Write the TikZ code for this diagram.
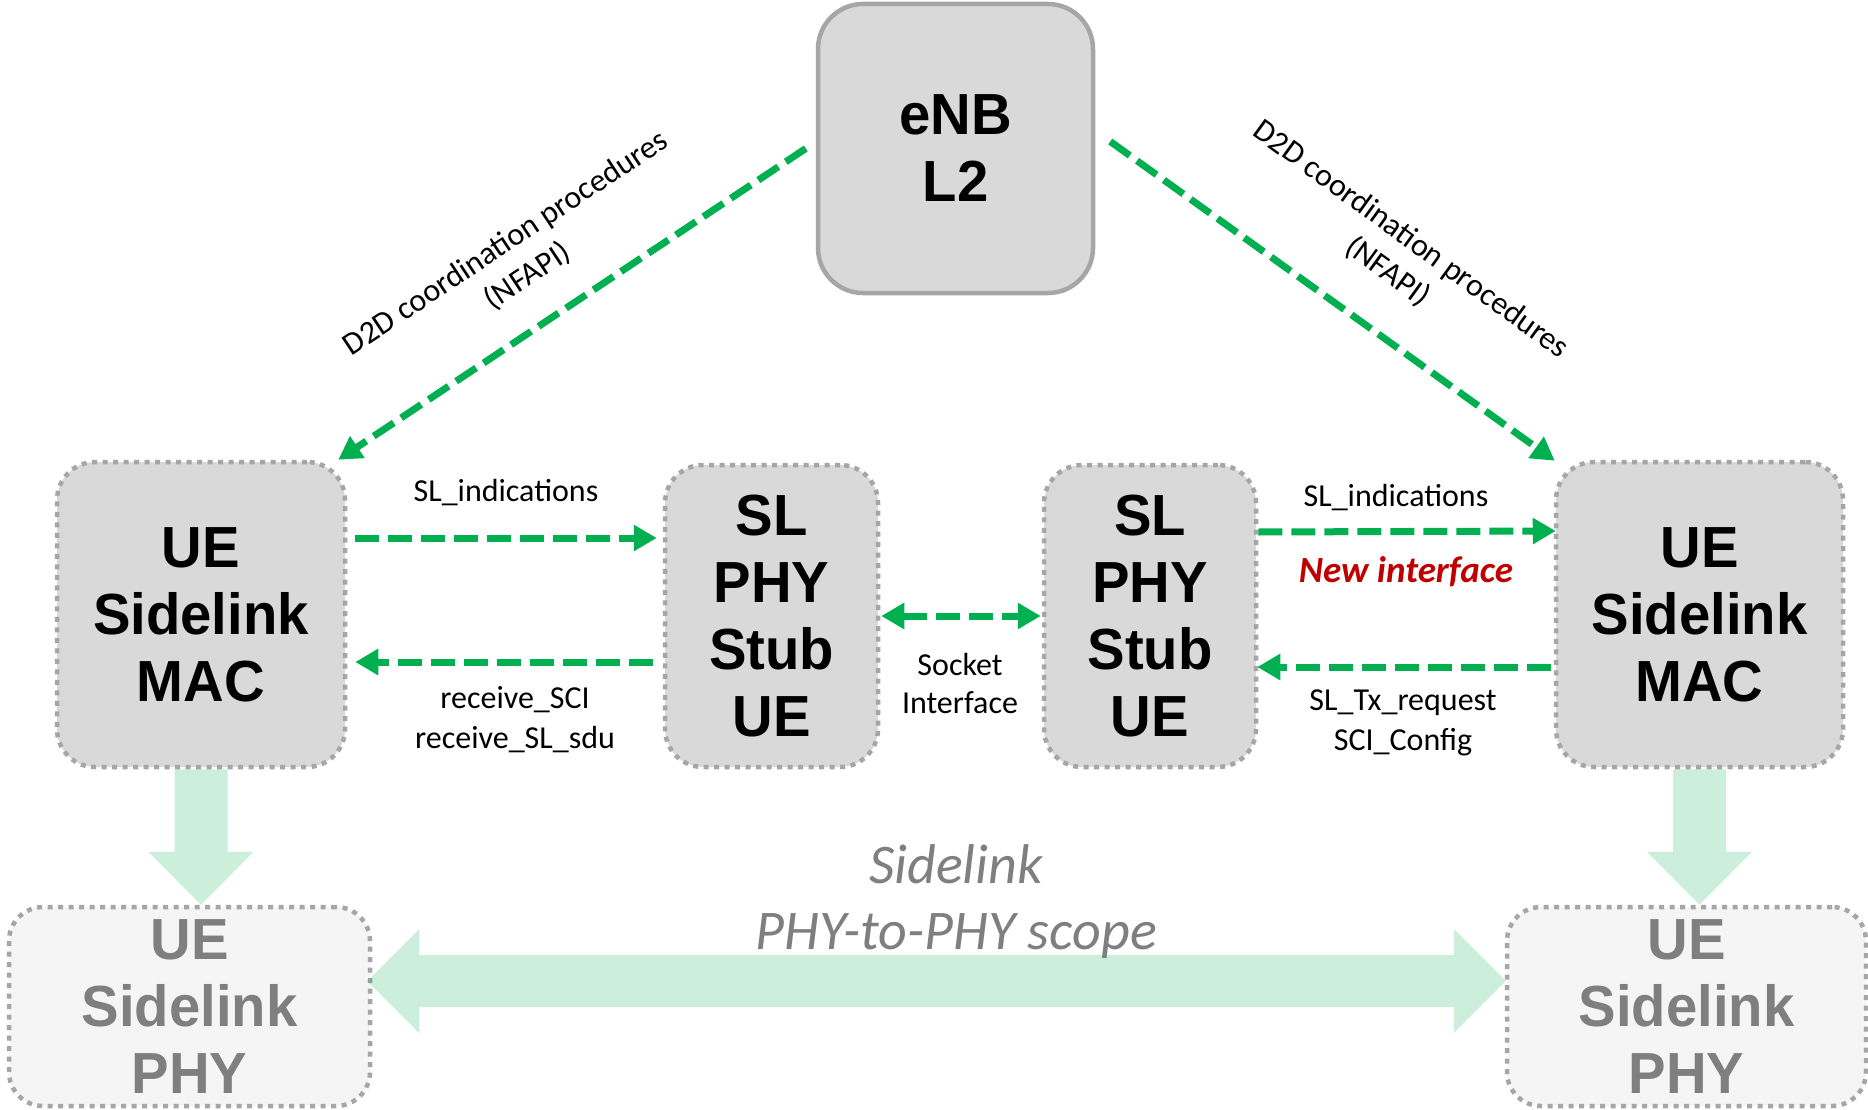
\documentclass[tikz,border=0pt]{standalone}
\usepackage{fontspec}
\setmainfont{Carlito}
\newfontfamily\boxfont[FakeStretch=0.97]{Liberation Sans}
\usetikzlibrary{arrows.meta,calc}
\definecolor{G}{HTML}{00B050}
\definecolor{boxfill}{HTML}{D9D9D9}
\definecolor{boxline}{HTML}{A6A6A6}
\definecolor{phyfill}{HTML}{F5F5F5}
\definecolor{phytext}{HTML}{7F7F7F}
\definecolor{newred}{HTML}{C00000}
\begin{document}
\begin{tikzpicture}[x=1pt,y=-1pt,
  bigtext/.style={font=\boxfont\bfseries\fontsize{58}{67}\selectfont, align=center, inner sep=0pt},
  enbbox/.style={bigtext, draw=boxline, line width=4.5pt, fill=boxfill, rounded corners=45pt},
  dotbox/.style={bigtext, draw=boxline, line width=4.5pt, dash pattern=on 5pt off 5.5pt, fill=boxfill, rounded corners=38pt},
  phybox/.style={dotbox, fill=phyfill, text=phytext, rounded corners=34pt},
  garrow/.style={draw=G, line width=7pt, dash pattern=on 24pt off 9pt, -{Triangle[length=23pt,width=25pt]}},
  gdarrow/.style={garrow, {Triangle[length=23pt,width=25pt]}-{Triangle[length=23pt,width=25pt]}},
  bigarrow/.style={fill=G, fill opacity=0.2},
  lbl/.style={font=\fontsize{32}{40}\selectfont, align=center, inner sep=0pt},
]
\fill[white] (0,0) rectangle (1868,1110);
\path[use as bounding box] (0,0) rectangle (1868,1110);

% boxes
\node[enbbox, minimum width=275pt, minimum height=289pt] (enb) at (955.5,148.5) {eNB\\L2};
\node[dotbox, minimum width=288pt, minimum height=305pt] (macL) at (201,614.5) {UE\\Sidelink\\MAC};
\node[dotbox, minimum width=213pt, minimum height=302pt] (stubL) at (771.5,616) {SL\\PHY\\Stub\\UE};
\node[dotbox, minimum width=212pt, minimum height=302pt] (stubR) at (1150,616) {SL\\PHY\\Stub\\UE};
\node[dotbox, minimum width=287pt, minimum height=305pt] (macR) at (1699.5,614.5) {UE\\Sidelink\\MAC};
\node[phybox, minimum width=361pt, minimum height=199pt] (phyL) at (189.5,1006.5) {UE\\Sidelink\\PHY};
\node[phybox, minimum width=359pt, minimum height=199pt] (phyR) at (1686.5,1006.5) {UE\\Sidelink\\PHY};

% diagonal arrows from eNB
\draw[garrow] ([xshift=-10pt]enb.west) -- ([xshift=-9pt]macL.north east);
\draw[garrow] ([xshift=15pt,yshift=7pt]enb.east) -- ([xshift=1pt,yshift=-1pt]macR.north west);
\node[lbl, rotate=33.5] (d2dL) at (517,260) {D2D coordination procedures\\(NFAPI)};
\node[lbl, rotate=-36] (d2dR) at (1399,256) {D2D coordination procedures\\(NFAPI)};

% left interface
\draw[garrow] ([xshift=8pt,yshift=76.5pt]macL.east) -- ([xshift=-6pt,yshift=78pt]stubL.west);
\draw[garrow] ([xshift=-10pt,yshift=-46pt]stubL.west) -- ([xshift=8pt,yshift=-47.5pt]macL.east);
\node[lbl] (slindL) at (506,493) {SL\_indications};
\node[lbl] (rcv) at (515,720) {receive\_SCI\\receive\_SL\_sdu};

% socket interface
\draw[gdarrow] ([xshift=1pt]stubL.east) -- ([xshift=-1pt]stubR.west);
\node[lbl, font=\fontsize{32}{38}\selectfont] (sock) at (960,684) {Socket\\Interface};

% right interface
\draw[garrow] ([yshift=84pt]stubR.east) -- ([xshift=2pt,yshift=83.5pt]macR.west);
\draw[garrow] ([xshift=-3pt,yshift=-52.5pt]macR.west) -- ([xshift=-1pt,yshift=-51pt]stubR.east);
\node[lbl] (slindR) at (1396,498) {SL\_indications};
\node[inner sep=0pt, font=\bfseries\itshape\fontsize{37}{44}\selectfont, text=newred] (newif) at (1406,572) {New interface};
\node[lbl] (txreq) at (1403,723) {SL\_Tx\_request\\SCI\_Config};

% big light green arrows
\coordinate (dl) at (macL.south |- phyL.north);
\fill[bigarrow] ($(macL.south)+(-26.5,0)$) -- ($(macL.south)+(26.5,0)$) -- ($(dl)+(26.5,-53)$) -- ($(dl)+(52.5,-53)$) -- (dl) -- ($(dl)+(-52.5,-53)$) -- ($(dl)+(-26.5,-53)$) -- cycle;
\coordinate (dr) at (macR.south |- phyR.north);
\fill[bigarrow] ($(macR.south)+(-26.5,0)$) -- ($(macR.south)+(26.5,0)$) -- ($(dr)+(26.5,-53)$) -- ($(dr)+(52.5,-53)$) -- (dr) -- ($(dr)+(-52.5,-53)$) -- ($(dr)+(-26.5,-53)$) -- cycle;
\coordinate (hl) at ($(phyL.east)+(-5,-25.5)$);
\coordinate (hr) at ($(phyR.west)+(1,-25.5)$);
\fill[bigarrow] (hl) -- ($(hl)+(52,-52)$) -- ($(hl)+(52,-26)$) -- ($(hr)+(-52,-26)$) -- ($(hr)+(-52,-52)$) -- (hr) -- ($(hr)+(-52,52)$) -- ($(hr)+(-52,26)$) -- ($(hl)+(52,26)$) -- ($(hl)+(52,52)$) -- cycle;
\node[inner sep=0pt, align=center, font=\itshape\fontsize{56}{66}\selectfont, text=phytext] (scope) at (956,902) {Sidelink\\PHY-to-PHY scope};
\end{tikzpicture}
\end{document}
